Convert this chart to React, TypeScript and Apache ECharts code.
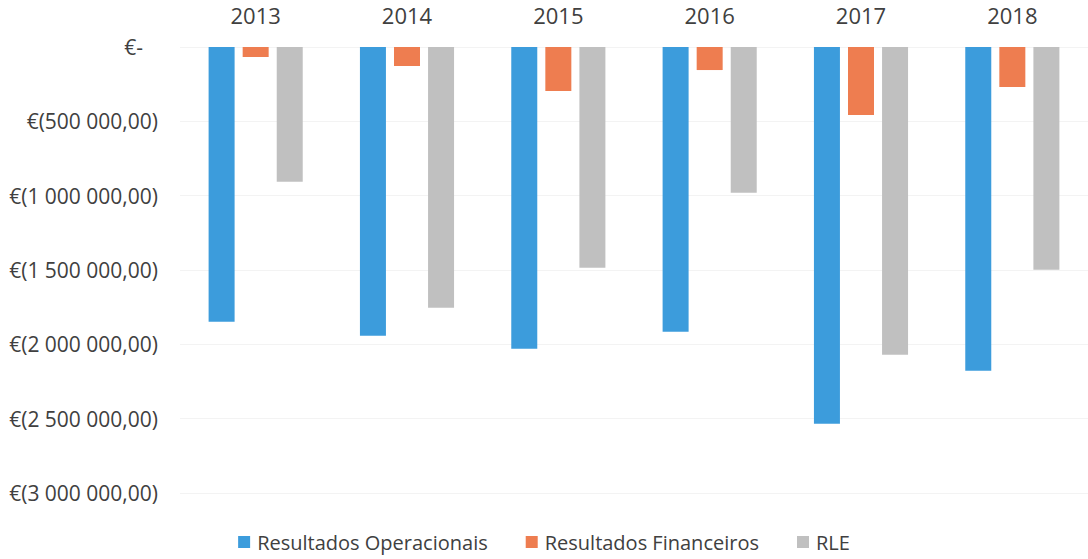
import React, { useEffect, useRef } from "react";
import * as echarts from "echarts";

const years = ["2013", "2014", "2015", "2016", "2017", "2018"];
const operacionais = [-1848000, -1942000, -2030000, -1915000, -2534000, -2177000];
const financeiros = [-67000, -128000, -296000, -155000, -457000, -269000];
const rle = [-907000, -1754000, -1485000, -981000, -2070000, -1499000];

function fmt(v: number): string {
  if (v === 0) return "{z|€-}";
  const a = Math.abs(v);
  const s = String(Math.round(a)).replace(/\B(?=(\d{3})+(?!\d))/g, " ");
  return "€(" + s + ",00)";
}

export default function App() {
  const ref = useRef<HTMLDivElement>(null);
  useEffect(() => {
    if (!ref.current) return;
    const chart = echarts.init(ref.current, undefined, { renderer: "svg" });
    const font = "'Open Sans', sans-serif";
    const barCommon = { type: "bar" as const, barWidth: 26, barGap: "31%" };
    chart.setOption({
      animation: false,
      backgroundColor: "#ffffff",
      grid: { left: 180, right: -4, top: 47, bottom: 66 },
      legend: {
        bottom: 2,
        left: "center",
        itemWidth: 12,
        itemHeight: 12,
        itemGap: 38,
        icon: "rect",
        textStyle: { color: "#404040", fontSize: 20, fontFamily: font, padding: [0, 0, 0, 2] },
        data: ["Resultados Operacionais", "Resultados Financeiros", "RLE"],
      },
      xAxis: {
        type: "category",
        position: "top",
        data: years,
        axisLine: { show: false },
        axisTick: { show: false },
        axisLabel: { color: "#404040", fontSize: 22, fontFamily: font, margin: 21 },
      },
      yAxis: {
        type: "value",
        min: -3000000,
        max: 0,
        interval: 500000,
        axisLine: { show: false },
        axisTick: { show: false },
        splitLine: { lineStyle: { color: "#f3f3f3" } },
        axisLabel: {
          color: "#404040",
          fontSize: 21,
          fontFamily: font,
          margin: 22,
          formatter: fmt,
          rich: { z: { padding: [0, 15, 0, 0], color: "#404040", fontSize: 21, fontFamily: font } },
        },
      },
      series: [
        { ...barCommon, name: "Resultados Operacionais", data: operacionais, itemStyle: { color: "#3C9CDC" } },
        { ...barCommon, name: "Resultados Financeiros", data: financeiros, itemStyle: { color: "#EE7D50" } },
        { ...barCommon, name: "RLE", data: rle, itemStyle: { color: "#C0C0C0" } },
      ],
    });
    return () => chart.dispose();
  }, []);
  return (
    <div
      ref={ref}
      style={{ position: "absolute", left: 0, top: 0, width: 1088, height: 559 }}
    />
  );
}
